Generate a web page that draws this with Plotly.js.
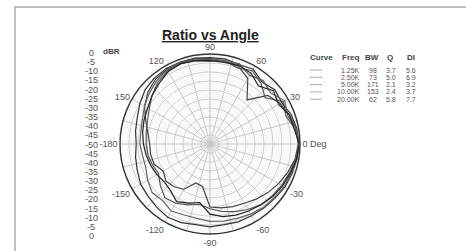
<!DOCTYPE html>
<html>
<head>
<meta charset="utf-8">
<script src="https://cdn.plot.ly/plotly-3.0.1.min.js"></script>
<style>html,body{margin:0;padding:0;background:#fff;}#chart{width:466px;height:251px;}</style>
</head>
<body>
<div id="chart"></div>
<script>
// ---- data ----
const angles = [-180,-170,-160,-150,-140,-130,-120,-110,-100,-90,-80,-70,-60,-50,-40,-30,-20,-10,0,10,20,30,40,50,60,70,80,90,100,110,120,130,140,150,160,170,180];
const curveNames = ['1.25K','2.50K','5.00K','10.00K','20.00K'];
const curveBW = ['98','73','171','153','62'];
const curveQ = ['3.7','5.0','2.1','2.4','5.8'];
const curveDI = ['5.6','6.9','3.2','3.7','7.7'];
const dbr1 = [-16.5,-16.5,-17,-20,-18,-19,-21,-27,-26,-15,-14,-13,-12,-10,-8,-6,-4,-2,-1,-1.5,-3,-5,-8,-18,-8,-4,-3,-4,-3,-2.5,-2,-3,-5,-8,-12,-15,-16.5];
const dbr2 = [-14.5,-15,-16,-17,-14,-11,-12,-14,-16,-14,-12,-10,-8,-6,-5,-4,-3,-1.5,-0.5,-2,-5,-3,-10,-6,-3,-5,-3,-2.5,-2,-2,-3,-5,-8,-11,-13,-14,-14.5];
const dbr3 = [-9,-8,-7,-5.5,-5,-4,-3,-3.5,-4.5,-4,-4.5,-4,-4,-3.5,-3,-2,-1.5,-1,-0.5,-1,-2,-4,-3,-5,-2,-3,-2,-2,-1.5,-1.5,-1.5,-2,-3,-5,-7,-8,-9];
const dbr4 = [-11,-12,-12,-10,-8,-9,-7,-8,-8,-7,-6.5,-6,-5,-4,-3.5,-2.5,-2,-1,-0.5,-1.5,-4,-2,-6,-4,-6,-2.5,-3.5,-3,-2.5,-2,-2.5,-4,-6,-8,-10,-11,-11];
const dbr5 = [-13,-14,-15,-16,-17,-16,-13,-15,-17,-11,-9,-8,-7,-6,-4.5,-3.5,-2.5,-1.2,-0.3,-2.5,-3,-6,-4,-8,-4.5,-3.5,-4,-3.5,-3,-2.5,-3.5,-6,-8,-10,-11,-12,-13];
const series = [dbr1,dbr2,dbr3,dbr4,dbr5];
const dbrTicks = ['0','-5','-10','-15','-20','-25','-30','-35','-40','-45','-50','-45','-40','-35','-30','-25','-20','-15','-10','-5','0'];
const angleTickVals = [0,15,30,45,60,75,90,105,120,135,150,165,180,195,210,225,240,255,270,285,300,315,330,345];
const angleTickText = ['0 Deg','','30','','60','','90','','120','','150','','-180','','-150','','-120','','-90','','-60','','-30',''];

// ---- layout ----
const W = 466, H = 251;
const cx = 210, cy = 144, R = 90;
const px = x => x / W, py = y => 1 - y / H;
const lineColors = ['#444','#555','#333','#666','#222'];
const dom = {x:[px(cx-R), px(cx+R)], y:[py(cy+R), py(cy-R)]};
const font = 'Liberation Sans, Arial, sans-serif';

const traces = series.map((s,i)=>({
  type:'scatterpolar', mode:'lines', r:s, theta:angles, subplot:'polar2',
  line:{color:lineColors[i], width:1.2}, name:curveNames[i], showlegend:false
}));
traces.unshift({type:'scatterpolar', r:[], theta:[], subplot:'polar', showlegend:false});

const annotations = [];
dbrTicks.forEach((t,i)=>{
  const y = 53 + i*(236-53)/(dbrTicks.length-1);
  annotations.push({xref:'paper',yref:'paper',x:px(91),y:py(y),text:t,showarrow:false,xanchor:'center',yanchor:'middle',font:{family:font,size:9,color:'#555'}});
});
annotations.push({xref:'paper',yref:'paper',x:px(111),y:py(51),text:'<b>dBR</b>',showarrow:false,xanchor:'center',yanchor:'middle',font:{family:font,size:8,color:'#444'}});
annotations.push({xref:'paper',yref:'paper',x:px(210),y:py(35),text:'<b><u>Ratio vs Angle</u></b>',showarrow:false,xanchor:'center',yanchor:'middle',font:{family:font,size:14,color:'#222'}});
const hdr = [['Curve',321],['Freq',350],['BW',372],['Q',390],['DI',411]];
hdr.forEach(h=>annotations.push({xref:'paper',yref:'paper',x:px(h[1]),y:py(57),text:'<b>'+h[0]+'</b>',showarrow:false,xanchor:'center',yanchor:'middle',font:{family:font,size:8,color:'#444'}}));
const shapes = [];
curveNames.forEach((n,i)=>{
  const y = 70 + i*7.3;
  const f = {family:font,size:7,color:'#555'};
  const base = {xref:'paper',yref:'paper',y:py(y),showarrow:false,yanchor:'middle',borderpad:0,font:f};
  annotations.push(Object.assign({},base,{x:px(361),text:n,xanchor:'right'}));
  annotations.push(Object.assign({},base,{x:px(372.5),text:curveBW[i],xanchor:'center'}));
  annotations.push(Object.assign({},base,{x:px(390.5),text:curveQ[i],xanchor:'center'}));
  annotations.push(Object.assign({},base,{x:px(410.5),text:curveDI[i],xanchor:'center'}));
  shapes.push({type:'line',xref:'paper',yref:'paper',x0:px(310),x1:px(322),y0:py(y),y1:py(y),line:{color:'#aaa',width:1}});
});
shapes.push({type:'rect',xref:'paper',yref:'paper',x0:px(15),y0:py(7),x1:px(480),y1:py(265),line:{color:'#aaa',width:1.5},fillcolor:'rgba(0,0,0,0)'});

const layout = {
  width:W, height:H, margin:{l:0,r:0,t:0,b:0},
  paper_bgcolor:'#fff', showlegend:false,
  font:{family:font, color:'#555', size:9},
  polar:{domain:dom, bgcolor:'#fff',
    radialaxis:{range:[-50,0], dtick:1, showticklabels:false, ticks:'', gridcolor:'#ececec', gridwidth:0.6, showline:false},
    angularaxis:{showticklabels:false, ticks:'', dtick:15, gridcolor:'#ececec', showline:false, direction:'counterclockwise', rotation:0}
  },
  polar2:{domain:dom, bgcolor:'rgba(0,0,0,0)',
    radialaxis:{range:[-50,0], dtick:5, showticklabels:false, ticks:'', gridcolor:'#c4c4c4', gridwidth:0.8, showline:false},
    angularaxis:{tickmode:'array', tickvals:angleTickVals, ticktext:angleTickText, ticks:'', gridcolor:'#c4c4c4', gridwidth:0.8,
      linecolor:'#333', linewidth:1.4, showline:true, direction:'counterclockwise', rotation:0,
      tickfont:{family:font,size:9,color:'#555'}}
  },
  annotations, shapes
};
Plotly.newPlot('chart', traces, layout, {staticPlot:true, displayModeBar:false});
</script>
</body>
</html>
